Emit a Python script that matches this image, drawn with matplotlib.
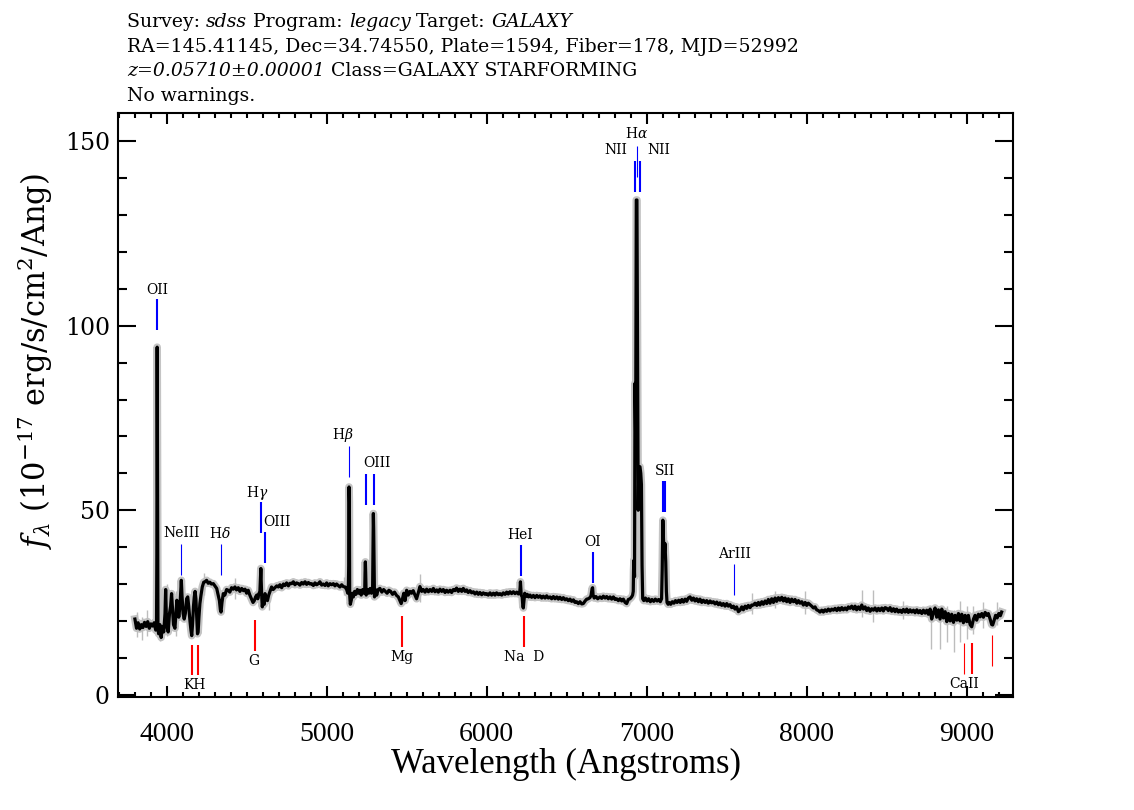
import matplotlib
matplotlib.use('Agg')
import matplotlib.pyplot as plt
from matplotlib.ticker import MultipleLocator

plt.rcParams['mathtext.fontset'] = 'dejavuserif'
plt.rcParams['font.family'] = ['DejaVu Serif']

# ---------------- data ----------------
redshift = 0.05710

spec_blue = [
    (3802, 20.5), (3812, 18.0), (3822, 19.5), (3832, 17.8), (3842, 19.0), (3852, 18.2),
    (3862, 19.6), (3872, 18.5), (3882, 19.8), (3892, 18.0), (3902, 19.2), (3912, 18.6),
    (3922, 19.5), (3932, 17.5), (3937, 19.0), (3939, 38.0), (3941, 94.2), (3943, 60.0),
    (3946, 18.0), (3950, 16.5), (3958, 19.0), (3966, 15.5), (3974, 18.5), (3982, 17.0),
    (3990, 22.0), (3994, 28.5), (3998, 22.0), (4004, 18.0), (4010, 17.0), (4018, 22.0),
    (4025, 24.0), (4031, 27.4), (4036, 24.0), (4043, 19.0), (4052, 18.0), (4058, 22.0),
    (4064, 25.6), (4069, 24.5), (4076, 21.0), (4083, 23.8), (4088, 28.0), (4092, 31.0),
    (4096, 27.0), (4103, 22.0), (4110, 20.5), (4117, 22.0), (4125, 26.0), (4132, 26.5),
    (4138, 24.0), (4146, 20.0), (4152, 17.5), (4157, 16.0), (4162, 19.0), (4168, 24.0),
    (4173, 26.5), (4178, 28.0), (4183, 26.0), (4188, 21.0), (4193, 16.5), (4197, 17.0),
    (4202, 21.0), (4208, 24.7), (4215, 27.0), (4223, 29.2), (4232, 30.5), (4240, 30.6),
    (4250, 31.0), (4260, 30.2), (4270, 30.5), (4280, 30.0), (4292, 30.1), (4302, 29.5),
    (4313, 28.8), (4322, 27.0), (4330, 25.5), (4336, 23.0), (4340, 22.4), (4346, 25.0),
    (4354, 27.4), (4364, 27.0), (4375, 28.5), (4385, 28.3), (4395, 27.8), (4406, 29.0),
    (4417, 28.6), (4427, 29.2), (4437, 28.4), (4448, 29.0), (4458, 28.0), (4469, 28.8),
    (4480, 28.2), (4490, 28.6), (4500, 27.5), (4510, 28.3), (4520, 27.0), (4530, 26.0),
    (4540, 25.0), (4548, 25.5), (4556, 26.5), (4563, 27.0), (4570, 26.0), (4577, 27.4),
    (4583, 28.0), (4587, 32.0), (4589, 34.2), (4591, 31.0), (4595, 26.0), (4598, 23.8),
    (4604, 26.5), (4610, 24.5), (4615, 27.4), (4622, 26.0), (4630, 25.5), (4638, 27.0),
    (4646, 28.0), (4656, 29.2), (4666, 28.5), (4677, 29.0), (4688, 29.5), (4698, 29.2),
]

spec_mid = [
    (4708, 29.8), (4719, 29.0), (4730, 30.0), (4740, 29.6), (4750, 30.3), (4761, 29.5),
    (4771, 30.2), (4781, 30.1), (4792, 30.6), (4802, 29.8), (4812, 30.3), (4823, 30.1),
    (4833, 29.7), (4844, 30.4), (4854, 30.0), (4865, 30.6), (4875, 29.9), (4886, 30.4),
    (4896, 30.0), (4906, 30.1), (4917, 29.6), (4927, 30.3), (4938, 29.8), (4948, 30.1),
    (4958, 30.6), (4969, 29.7), (4979, 30.0), (4990, 29.6), (5000, 30.3), (5010, 29.5),
    (5021, 30.1), (5031, 29.8), (5042, 30.1), (5052, 29.5), (5062, 30.0), (5073, 29.6),
    (5083, 29.2), (5094, 29.8), (5104, 29.3), (5115, 29.2), (5125, 28.5), (5132, 27.5),
    (5136, 30.0), (5138, 35.0), (5140, 56.3), (5142, 52.0), (5144, 27.0), (5148, 24.5),
    (5154, 25.6), (5160, 27.5), (5167, 26.5), (5175, 28.0), (5183, 27.2), (5192, 28.5),
    (5200, 27.5), (5208, 28.3), (5216, 27.0), (5225, 28.5), (5233, 27.5), (5238, 28.2),
    (5240, 33.0), (5242, 36.0), (5244, 33.0), (5247, 27.0), (5255, 28.5), (5263, 27.5),
    (5272, 28.8), (5280, 27.5), (5287, 28.0), (5290, 40.0), (5292, 49.1), (5294, 44.6),
    (5296, 38.0), (5299, 26.5), (5305, 28.5), (5313, 27.0), (5322, 28.5), (5333, 28.8),
    (5345, 27.8), (5356, 28.5), (5367, 28.0), (5378, 27.5), (5389, 28.3), (5400, 28.0),
    (5412, 27.2), (5424, 27.8), (5437, 26.9), (5448, 26.5), (5458, 25.5), (5466, 24.7),
    (5474, 26.0), (5482, 27.5), (5490, 25.5), (5500, 28.3), (5510, 27.0), (5521, 28.0),
    (5531, 27.5), (5541, 28.2), (5552, 27.0), (5562, 26.0), (5572, 27.5), (5583, 29.3),
    (5594, 28.0), (5604, 28.5), (5615, 27.8), (5625, 28.6), (5636, 27.9), (5646, 28.5),
    (5657, 28.0), (5667, 28.8), (5677, 27.9), (5688, 28.4), (5698, 27.8), (5708, 28.6),
    (5719, 28.0), (5729, 28.5), (5740, 27.7), (5750, 28.3), (5760, 27.8), (5771, 28.3),
    (5781, 27.7), (5792, 28.5), (5802, 28.2), (5812, 28.9), (5823, 28.0), (5833, 28.6),
    (5844, 28.0), (5854, 28.8), (5865, 28.0), (5875, 28.4), (5885, 27.7), (5896, 28.2),
    (5906, 27.6), (5917, 27.9), (5927, 27.3), (5938, 27.8), (5948, 27.2), (5958, 27.7),
    (5969, 27.1), (5979, 27.6), (5990, 27.2), (6000, 27.4), (6010, 27.0), (6021, 27.6),
    (6031, 27.0), (6042, 27.5), (6052, 27.0), (6062, 27.6), (6073, 27.1), (6083, 27.4),
    (6094, 27.0), (6104, 27.6), (6115, 27.2), (6125, 27.8), (6135, 27.3), (6146, 27.9),
    (6156, 27.4), (6167, 27.9), (6177, 27.4), (6188, 27.8), (6198, 27.3), (6206, 27.5),
    (6209, 29.0), (6211, 30.6), (6213, 29.0), (6216, 27.0), (6222, 26.5), (6226, 24.0),
    (6229, 23.5), (6232, 25.0), (6238, 27.5), (6246, 26.6), (6254, 27.2), (6262, 26.5),
    (6271, 27.0), (6281, 26.4), (6292, 26.9), (6302, 26.3), (6313, 26.9), (6323, 26.4),
    (6333, 26.8), (6344, 26.2), (6354, 26.7), (6365, 26.2), (6375, 26.8), (6385, 26.2),
    (6396, 26.5), (6406, 26.0), (6417, 26.6), (6427, 26.0), (6438, 26.5), (6448, 25.9),
    (6458, 26.4), (6469, 25.8), (6479, 26.3), (6490, 25.7), (6500, 26.0), (6510, 25.5),
    (6521, 25.9), (6531, 25.3), (6542, 25.7), (6552, 25.0), (6562, 25.2), (6573, 24.7),
    (6583, 25.2), (6594, 24.6), (6604, 24.7), (6615, 25.4), (6625, 25.9), (6635, 26.0),
    (6645, 26.3), (6652, 26.8), (6656, 28.0), (6659, 28.8), (6662, 29.0), (6665, 27.0),
    (6672, 26.2), (6683, 26.6), (6694, 26.0), (6708, 26.5), (6719, 26.1), (6729, 26.7),
    (6740, 26.2), (6750, 26.6), (6760, 26.0), (6771, 26.5), (6781, 25.9), (6792, 26.5),
    (6802, 25.8), (6812, 26.0), (6823, 25.5), (6833, 26.0), (6844, 25.4), (6854, 25.9),
    (6865, 25.0), (6875, 24.7), (6885, 25.8), (6896, 26.0), (6906, 26.5), (6912, 27.0),
]

spec_halpha = [
    (6916, 28.0), (6918, 34.0), (6921, 36.5), (6924, 32.0), (6927, 84.4), (6931, 70.0),
    (6935, 134.1), (6939, 134.1), (6943, 90.0), (6947, 50.0), (6951, 61.8), (6958, 61.8),
    (6963, 60.0), (6967, 57.0), (6971, 35.0), (6975, 26.0), (6982, 25.5), (6992, 26.2),
    (7002, 25.4), (7012, 26.0), (7023, 25.2), (7033, 25.8), (7044, 25.3), (7054, 25.9),
    (7065, 25.4), (7075, 25.8), (7085, 25.2), (7093, 26.0), (7097, 34.0), (7101, 47.3),
    (7105, 42.0), (7110, 38.0), (7114, 41.0), (7119, 36.0), (7123, 28.0), (7127, 25.0),
]

spec_red = [
    (7134, 24.5), (7140, 25.0), (7150, 24.5), (7160, 25.2), (7170, 24.8), (7180, 25.5),
    (7190, 25.0), (7200, 25.6), (7210, 25.0), (7220, 25.8), (7230, 25.1), (7240, 25.9),
    (7250, 25.3), (7260, 26.2), (7271, 26.5), (7282, 25.6), (7292, 26.2), (7302, 25.4),
    (7312, 26.0), (7323, 25.2), (7333, 25.9), (7344, 25.0), (7354, 25.6), (7365, 25.0),
    (7375, 25.5), (7385, 24.8), (7396, 25.4), (7406, 24.9), (7417, 25.2), (7427, 24.6),
    (7438, 25.1), (7448, 24.4), (7458, 24.9), (7469, 24.2), (7479, 24.7), (7490, 24.0),
    (7500, 24.7), (7510, 24.0), (7521, 24.4), (7531, 23.6), (7542, 24.0), (7552, 23.2),
    (7562, 23.8), (7573, 22.5), (7583, 22.9), (7594, 23.8), (7604, 23.0), (7615, 24.0),
    (7625, 23.4), (7635, 24.2), (7646, 23.6), (7656, 24.3), (7667, 24.3), (7677, 24.8),
    (7688, 24.2), (7698, 25.0), (7708, 24.3), (7719, 25.2), (7729, 24.5), (7740, 25.4),
    (7750, 24.7), (7760, 25.8), (7771, 24.8), (7781, 26.0), (7792, 25.0), (7802, 26.2),
    (7812, 25.3), (7823, 26.3), (7833, 25.6), (7844, 26.4), (7854, 25.4), (7865, 26.2),
    (7875, 25.2), (7885, 26.0), (7896, 25.0), (7906, 25.9), (7917, 25.2), (7927, 25.8),
    (7938, 24.8), (7948, 25.5), (7958, 24.8), (7969, 25.2), (7979, 24.3), (7990, 25.0),
    (8000, 24.2), (8010, 24.8), (8021, 24.4), (8031, 24.0), (8042, 23.5), (8052, 23.8),
    (8062, 23.0), (8073, 22.8), (8083, 22.4), (8094, 22.9), (8104, 22.4), (8115, 23.0),
    (8125, 22.6), (8135, 23.2), (8146, 22.7), (8156, 23.2), (8167, 22.9), (8177, 23.4),
    (8188, 22.8), (8198, 23.5), (8208, 22.9), (8219, 23.6), (8229, 23.0), (8240, 23.5),
    (8250, 23.0), (8260, 23.8), (8271, 23.4), (8281, 24.0), (8292, 23.2), (8302, 24.0),
    (8312, 23.0), (8323, 23.8), (8333, 23.1), (8344, 24.3), (8354, 23.2), (8365, 23.8),
    (8375, 22.8), (8385, 23.5), (8396, 22.6), (8406, 23.3), (8417, 22.9), (8427, 23.5),
    (8438, 22.7), (8448, 23.4), (8458, 22.8), (8469, 23.5), (8479, 22.7), (8490, 23.6),
    (8500, 23.4), (8510, 22.8), (8521, 23.6), (8531, 22.6), (8542, 23.3), (8552, 22.5),
    (8562, 23.2), (8573, 22.4), (8583, 22.9), (8594, 22.3), (8604, 23.1), (8615, 22.4),
    (8625, 23.2), (8635, 22.3), (8646, 23.0), (8656, 22.4), (8667, 22.9), (8677, 22.2),
    (8688, 23.0), (8698, 22.2), (8708, 22.8), (8719, 22.0), (8729, 22.9), (8740, 22.1),
    (8750, 22.9), (8760, 21.8), (8771, 23.2), (8781, 20.5), (8792, 22.4), (8802, 23.5),
    (8812, 21.0), (8823, 23.0), (8833, 20.5), (8844, 23.2), (8854, 20.8), (8865, 22.5),
    (8875, 19.8), (8885, 22.0), (8896, 20.0), (8906, 21.8), (8917, 19.6), (8927, 21.5),
    (8938, 20.2), (8948, 22.0), (8958, 20.0), (8969, 21.8), (8979, 19.5), (8990, 21.5),
    (9000, 19.8), (9010, 21.5), (9021, 19.0), (9031, 18.4), (9042, 20.5), (9052, 21.5),
    (9062, 20.2), (9073, 21.8), (9083, 21.1), (9094, 22.0), (9104, 21.0), (9115, 22.3),
    (9125, 21.5), (9135, 22.0), (9146, 20.5), (9156, 19.0), (9162, 18.9), (9170, 20.0),
    (9180, 21.5), (9190, 20.8), (9200, 22.0), (9210, 21.4), (9218, 22.4),
]

# noisy (unsmoothed) excursions seen in grey: wavelength, low, high
spike_wave = [3812, 3844, 3880, 3960, 4000, 4060, 4235, 4430, 4640, 5583, 5110,
              7660, 7800, 7990, 8344, 8417, 8600, 8779, 8833, 8875, 8921, 8958,
              9000, 9040, 9100, 9187]
spike_low = [15.5, 14.8, 16.0, 14.5, 16.0, 16.0, 27.0, 26.0, 23.0, 25.0, 27.0,
             22.0, 23.5, 22.0, 21.0, 19.8, 20.5, 12.5, 12.5, 14.2, 11.6, 14.2,
             15.0, 16.5, 18.0, 19.0]
spike_high = [22.5, 21.0, 23.0, 20.0, 30.0, 28.0, 33.0, 31.5, 29.0, 32.7, 32.0,
              27.5, 28.0, 28.0, 28.5, 28.5, 25.5, 24.0, 24.0, 24.0, 23.0, 25.5,
              24.0, 24.0, 25.0, 25.0]

# emission lines (rest vacuum wavelengths) and the flux where each blue mark starts
em_rest = [3727.09, 3869.81, 4102.89, 4341.68, 4364.44, 4862.68, 4960.30, 5008.24,
           5877.29, 6302.05, 6549.86, 6564.61, 6585.27, 6718.29, 6732.67, 7137.80]
em_base = [98.8, 32.4, 32.4, 43.9, 35.6, 59.1, 51.4, 51.4,
           32.1, 30.2, 136.3, 140.4, 136.3, 49.6, 49.6, 27.0]
em_strong = [True, False, False, True, True, False, True, True,
             True, True, True, False, True, True, True, False]
em_labels = ['OII', 'NeIII', 'H$\\delta$', 'H$\\gamma$', 'OIII', 'H$\\beta$', 'OIII',
             'NII', 'H$\\alpha$', 'NII', 'SII', 'HeI', 'OI', 'ArIII']
em_label_wave = [3940, 4094, 4335, 4566, 4689, 5100, 5314,
                 6806, 6937, 7077, 7116, 6208, 6660, 7548]
em_label_flux = [109.7, 43.9, 43.7, 54.7, 46.9, 70.4, 62.9,
                 147.6, 152.0, 147.6, 60.7, 43.2, 41.4, 38.1]

# absorption lines (rest vacuum wavelengths) and the flux where each red mark ends
ab_rest = [3934.78, 3969.59, 4305.61, 5176.70, 5895.60, 8500.36, 8544.44, 8664.52]
ab_top = [13.6, 13.6, 20.2, 21.3, 21.3, 13.9, 13.9, 16.1]
ab_strong = [True, True, True, True, True, False, True, False]
ab_labels = ['KH', 'G', 'Mg', 'Na  D', 'CaII']
ab_label_wave = [4177, 4546, 5469, 6231, 8983]
ab_label_flux = [2.6, 9.2, 10.3, 10.2, 3.0]

# header lines: (text, italic) pieces
title_lines = [
    [("Survey: ", False), ("sdss", True), (" Program: ", False), ("legacy", True),
     (" Target: ", False), ("GALAXY", True)],
    [("RA=145.41145, Dec=34.74550, Plate=1594, Fiber=178, MJD=52992", False)],
    [("z=0.05710\u00b10.00001", True), (" Class=GALAXY STARFORMING", False)],
    [("No warnings.", False)],
]
x_ticks = [4000, 5000, 6000, 7000, 8000, 9000]
y_ticks = [0, 50, 100, 150]

# ---------------- drawing ----------------
spectrum = spec_blue + spec_mid + spec_halpha + spec_red
wave = [p[0] for p in spectrum]
flux = [p[1] for p in spectrum]

W, H = 1134, 810
fig = plt.figure(figsize=(W / 100, H / 100), dpi=100)
fig.patch.set_facecolor('white')
ax = fig.add_axes([0.1043, 0.1401, 0.789, 0.7200])

ax.plot(wave, flux, color='#c4c4c4', lw=5.5, zorder=2)
ax.vlines(spike_wave, spike_low, spike_high, color='#bdbdbd', lw=1.0, zorder=2)
ax.plot(wave, flux, color='black', lw=2.3, zorder=3)

mark_len = 8.4
for rest, base, strong in zip(em_rest, em_base, em_strong):
    w = rest * (1 + redshift)
    ax.plot([w, w], [base, base + mark_len], color='#0000ff',
            lw=1.5 if strong else 0.8, solid_capstyle='butt', zorder=4)
for rest, top, strong in zip(ab_rest, ab_top, ab_strong):
    w = rest * (1 + redshift)
    ax.plot([w, w], [top - mark_len, top], color='#ff0000',
            lw=1.5 if strong else 0.8, solid_capstyle='butt', zorder=4)

for txt, w, f in zip(em_labels, em_label_wave, em_label_flux):
    ax.text(w, f, txt, ha='center', va='center', fontsize=10, zorder=5)
for txt, w, f in zip(ab_labels, ab_label_wave, ab_label_flux):
    ax.text(w, f, txt, ha='center', va='center', fontsize=10, zorder=5)

ax.set_xlim(3698, 9289)
ax.set_ylim(-0.5, 157.6)
ax.set_xticks(x_ticks)
ax.set_yticks(y_ticks)
ax.xaxis.set_minor_locator(MultipleLocator(100))
ax.yaxis.set_minor_locator(MultipleLocator(10))
ax.tick_params(which='both', direction='in', top=True, right=True, width=1.5)
ax.tick_params(axis='x', which='major', length=8, pad=18)
ax.tick_params(axis='x', which='minor', length=3.8)
ax.tick_params(axis='y', which='major', length=13, pad=6)
ax.tick_params(axis='y', which='minor', length=6.5)
for lab in ax.get_xticklabels():
    lab.set_fontfamily('Liberation Serif')
    lab.set_fontsize(20)
for lab in ax.get_yticklabels():
    lab.set_fontsize(17)
for sp in ax.spines.values():
    sp.set_linewidth(1.5)

ax.set_xlabel('Wavelength (Angstroms)', fontsize=25, family='Liberation Serif', labelpad=1)
fig.text(35 / W, 1 - 361 / H,
         '$f_\\lambda$ (10$^{-17}$ erg/s/cm$^2$/Ang)',
         rotation=90, ha='center', va='center', fontsize=22)

renderer = fig.canvas.get_renderer()
for i, pieces in enumerate(title_lines):
    x = 127 / W
    y = 1 - (22 + 24.7 * i) / H
    for txt, italic in pieces:
        t = fig.text(x, y, txt, ha='left', va='center', fontsize=13.6,
                     style='italic' if italic else 'normal')
        bb = t.get_window_extent(renderer)
        x = bb.x1 / W

fig.savefig('out.png', dpi=100, facecolor='white')
